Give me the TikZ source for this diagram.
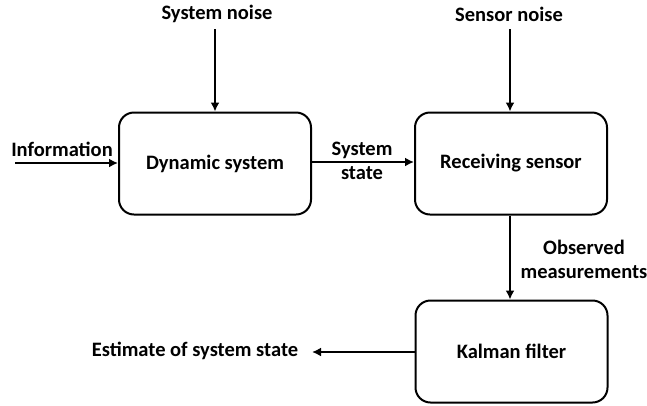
\documentclass[tikz,border=0pt]{standalone}
\usepackage{fontspec}
\setmainfont{Carlito}
\usetikzlibrary{arrows.meta}
\begin{document}
\begin{tikzpicture}[x=1pt,y=-1pt,
  font=\fontsize{20.5}{24}\selectfont\bfseries,
  blk/.style={draw=black, line width=2pt, rounded corners=15pt, minimum width=192pt, minimum height=102pt, inner sep=0pt},
  lbl/.style={inner sep=0pt, align=center},
  conn/.style={line width=2.6pt, -{Latex[length=9pt,width=9pt]}}]
\useasboundingbox (0,0) rectangle (647,405);
\node[blk] (dyn) at (215,163.5) {Dynamic system};
\node[blk] (sens) at (511,163.5) {Receiving sensor};
\node[blk] (kal) at (511.5,351.5) {Kalman filter};
\node[lbl] (sysn) at (217,14) {System noise};
\node[lbl] (senn) at (509,14) {Sensor noise};
\node[lbl] (info) at (62,149) {Information};
\node[lbl] (sst) at (362,161) {System\\[0pt]state};
\node[lbl] (obs) at (584,259) {Observed\\[0pt]measurements};
\node[lbl] (est) at (195,351) {Estimate of system state};
\coordinate (sysnt) at (215,29);
\coordinate (sennt) at (510,29);
\coordinate (infos) at (15,163);
\coordinate (estt) at (312,352);
\draw[conn] (sysnt) -- (dyn.north);
\draw[conn] (sennt) -- (sens.north -| sennt);
\draw[conn] (infos) -- (infos -| dyn.west);
\draw[conn] (dyn.east |- 0,162) -- (sens.west |- 0,162);
\draw[conn] (sens.south -| 510,0) -- (kal.north -| 510,0);
\draw[conn] (kal.west |- estt) -- (estt);
\end{tikzpicture}
\end{document}
